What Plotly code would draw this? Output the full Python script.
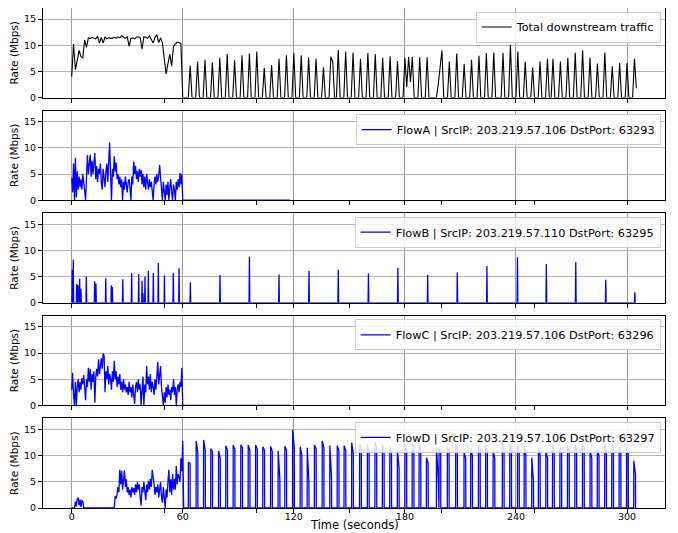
import plotly.graph_objects as go
from plotly.subplots import make_subplots

# ---------------- data ----------------
# Total downstream traffic: 1-s samples for t = 0..60 s
total_early = [4.0, 10.2, 5.3, 7.5, 9.0, 7.8, 7.6, 11.0, 9.6, 11.4,
               11.3, 11.5, 11.4, 11.2, 11.7, 10.4, 11.5, 10.4, 11.6, 11.2,
               11.4, 11.4, 11.3, 11.5, 11.3, 11.6, 11.4, 11.8, 11.5, 11.3,
               11.6, 9.8, 11.3, 11.4, 11.2, 11.5, 11.6, 11.4, 9.3, 11.6,
               11.5, 11.3, 11.8, 11.2, 10.4, 11.5, 12.0, 10.5, 11.4, 10.4,
               7.0, 4.5, 6.5, 8.3, 6.0, 9.8, 10.2, 10.6, 10.5, 10.3,
               0.0]
# Total after 60 s: non-zero 1-s samples (time s, rate Mbps); other seconds are 0
total_late_t = [64, 68, 72, 76, 80, 84, 88, 92, 96, 100, 104, 108, 112, 116, 120,
                124, 128, 132, 136, 140, 141, 144, 148, 152, 156, 160, 164, 168, 172,
                176, 180, 181, 182, 183, 184, 188, 192, 198, 199, 200, 204, 208, 212,
                216, 220, 224, 228, 233, 237, 241, 245, 249, 253, 257, 260, 264, 268,
                272, 276, 280, 284, 288, 292, 296, 300, 304, 305]
total_late_v = [6.1, 6.9, 7.2, 6.7, 7.6, 8.3, 7.1, 8.1, 8.4, 8.8, 5.7, 6.2, 7.4, 8.1, 8.5,
                8.1, 7.7, 7.4, 5.8, 7.8, 6.9, 9.1, 8.8, 8.6, 7.4, 8.5, 8.3, 7.6, 7.9,
                7.0, 7.6, 2.0, 7.8, 3.0, 7.8, 7.7, 7.7, 2.5, 5.5, 9.0, 6.9, 8.4, 6.4,
                7.2, 8.0, 8.5, 8.6, 8.5, 10.1, 8.8, 6.9, 5.8, 6.9, 7.4, 7.4, 6.9, 7.6,
                8.6, 9.0, 7.6, 6.5, 8.6, 6.0, 6.6, 6.6, 7.4, 1.8]
total_end = 305

# FlowA: 0.5-s samples for t = 0..60 s, then 0 until flowA_end
flowA_early = [4.2, 1.5, 7.0, 0.0, 8.1, 0.5, 5.5, 2.0, 4.5, 2.5,
               4.0, 2.0, 5.0, 2.5, 1.8, 0.0, 6.0, 8.6, 5.0, 6.5,
               8.7, 4.5, 7.5, 5.0, 8.0, 9.0, 4.0, 6.5, 3.5, 6.0,
               5.0, 7.0, 3.5, 2.0, 6.0, 4.5, 2.5, 5.5, 7.0, 3.5,
               8.0, 11.0, 5.0, 0.0, 6.0, 4.5, 8.4, 5.5, 7.2, 4.0,
               5.0, 3.0, 4.5, 2.5, 4.0, 0.0, 3.5, 2.0, 4.5, 3.0,
               1.5, 3.5, 4.0, 2.5, 0.0, 4.5, 3.0, 7.4, 5.0, 6.5,
               4.0, 5.5, 3.5, 6.0, 4.5, 5.8, 3.0, 5.0, 2.5, 4.5,
               2.0, 5.0, 3.0, 2.0, 4.0, 2.5, 3.5, 1.5, 0.0, 3.0,
               4.5, 3.0, 5.0, 3.5, 4.5, 6.7, 4.0, 2.0, 0.0, 3.5,
               1.5, 0.0, 3.0, 1.0, 3.5, 0.0, 2.5, 4.0, 1.5, 0.0,
               3.0, 2.0, 0.0, 3.5, 2.0, 4.0, 2.5, 5.2, 3.0, 5.0,
               0.0]
flowA_end = 118

# FlowB: short spikes (time s, peak Mbps), 0 elsewhere until flowB_end
flowB_t = [0.3, 0.86, 2.7, 3.4, 4.3, 5.0, 7.9, 12.4, 13.1, 18.4, 21.4, 21.96, 27.6,
           32.4, 36.2, 38.0, 38.5, 39.6, 41.4, 44.1, 46.8, 50.1, 54.9, 58.0, 64.1,
           80.1, 96.0, 112.0, 128.2, 144.0, 160.3, 176.2, 192.3, 208.3, 224.3,
           240.8, 256.4, 272.3, 288.5, 304.2]
flowB_v = [6.3, 8.2, 3.6, 3.4, 4.6, 2.7, 5.0, 4.1, 3.7, 4.7, 3.3, 3.0, 4.5,
           5.7, 5.5, 4.2, 1.8, 5.0, 6.1, 5.7, 7.6, 5.2, 5.7, 6.6, 3.9,
           5.3, 8.8, 5.4, 6.1, 6.3, 5.6, 6.7, 5.3, 5.8, 7.0,
           8.7, 7.4, 7.8, 4.4, 2.0]
flowB_end = 305

# FlowC: 0.5-s samples for t = 0..60 s, then 0 until flowC_end
flowC_early = [3.0, 6.2, 2.0, 0.0, 4.5, 0.0, 3.5, 5.0, 2.5, 4.5,
               3.0, 5.2, 4.0, 5.8, 3.5, 1.0, 5.0, 3.5, 7.2, 4.5,
               7.0, 3.0, 6.0, 4.5, 6.5, 0.5, 5.5, 7.0, 5.5, 8.8,
               6.0, 7.5, 9.0, 7.0, 9.9, 9.5, 2.5, 6.5, 5.0, 7.5,
               4.0, 6.0, 5.0, 3.0, 6.5, 4.5, 8.5, 5.0, 6.5, 3.5,
               5.5, 4.0, 6.0, 3.0, 4.5, 2.5, 5.0, 3.0, 4.0, 2.5,
               3.5, 2.0, 4.5, 2.5, 3.5, 1.5, 4.0, 2.0, 0.3, 3.5,
               4.5, 2.5, 5.0, 3.0, 4.0, 0.0, 3.5, 5.5, 0.0, 4.0,
               2.5, 7.5, 4.0, 5.5, 3.0, 6.0, 2.5, 4.5, 3.5, 2.0,
               5.0, 3.0, 5.5, 8.3, 4.0, 6.0, 7.5, 3.5, 2.0, 0.0,
               2.5, 0.5, 3.5, 1.5, 4.0, 2.0, 3.0, 1.0, 3.5, 2.5,
               5.0, 2.0, 3.5, 0.0, 3.0, 4.0, 2.5, 4.5, 3.5, 7.2,
               0.0]
flowC_end = 118

# FlowD: 0.5-s samples for t = 0..60.5 s
flowD_early = [0.0, 0.0, 0.0, 0.0, 1.2, 0.3, 1.8, 1.9, 0.5, 1.6,
               0.2, 1.4, 1.3, 0.0, 0.0, 0.0, 0.0, 0.0, 0.0, 0.0,
               0.0, 0.0, 0.0, 0.0, 0.0, 0.0, 0.0, 0.0, 0.0, 0.0,
               0.0, 0.0, 0.0, 0.0, 0.0, 0.0, 0.0, 0.0, 0.0, 0.0,
               0.0, 0.0, 0.0, 0.0, 0.0, 0.0, 0.0, 2.3, 1.8, 2.6,
               4.0, 3.0, 7.3, 4.5, 7.1, 3.5, 6.0, 7.2, 4.0, 5.5,
               3.0, 4.0, 2.5, 3.5, 2.0, 4.0, 3.0, 3.8, 2.5, 4.5,
               3.0, 5.0, 3.5, 4.5, 2.0, 0.5, 4.0, 3.0, 5.0, 3.5,
               1.5, 4.5, 3.0, 5.2, 3.5, 5.5, 4.0, 7.3, 5.0, 4.5,
               2.5, 4.0, 3.0, 4.5, 2.0, 3.5, 5.0, 2.0, 1.0, 4.0,
               1.5, 0.0, 3.5, 2.0, 5.0, 7.3, 3.0, 5.5, 2.5, 6.5,
               3.5, 5.5, 3.5, 8.0, 4.5, 6.5, 6.0, 5.0, 9.5, 7.0,
               12.8, 0.0]
# FlowD after 60 s: bursts (centre time s, rate at start, rate at end), 0 between
flowD_burst_t = [63.5, 67.7, 71.7, 75.6, 79.8, 83.7, 87.7, 91.8, 95.8, 99.8, 103.7,
                 107.9, 112.0, 115.6, 119.8, 123.9, 127.7, 131.6, 135.8, 139.9, 143.9,
                 147.6, 151.7, 156.0, 160.2, 164.3, 168.3, 172.3, 176.4, 180.5, 184.4,
                 188.1, 192.1, 197.5, 198.9, 203.4, 207.9, 212.4, 216.0, 220.2, 224.1,
                 228.1, 233.1, 237.1, 241.3, 244.9, 249.0, 252.6, 256.6, 260.2, 264.2,
                 268.3, 272.3, 276.4, 280.5, 284.4, 288.4, 292.2, 296.2, 300.2, 304.1]
flowD_burst_hi = [8.7, 12.8, 13.0, 11.3, 10.9, 11.9, 12.0, 12.0, 12.0, 12.0, 11.7,
                  11.8, 10.9, 11.8, 14.9, 11.7, 11.5, 12.0, 12.8, 11.9, 11.9,
                  11.9, 12.5, 12.2, 12.2, 12.5, 12.2, 11.7, 11.2, 12.2, 12.4,
                  12.5, 9.6, 11.5, 11.3, 11.7, 12.4, 10.6, 11.2, 12.0, 11.9,
                  10.9, 12.5, 12.1, 11.9, 11.9, 9.6, 11.2, 10.8, 11.9, 11.5,
                  11.9, 12.2, 12.2, 10.9, 11.2, 12.2, 12.4, 11.7, 12.2, 9.0]
flowD_burst_lo = [8.5, 10.5, 11.0, 10.8, 9.5, 11.0, 11.2, 11.5, 11.0, 11.3, 11.0,
                  10.8, 5.4, 11.0, 11.5, 10.0, 4.8, 11.3, 11.5, 6.0, 11.0,
                  11.0, 10.3, 11.6, 10.5, 11.5, 11.0, 10.5, 7.5, 11.0, 11.5,
                  11.0, 8.5, 6.0, 10.5, 10.5, 11.0, 9.5, 10.0, 11.0, 10.5,
                  9.5, 11.5, 11.0, 10.5, 10.0, 5.1, 10.0, 9.5, 11.0, 10.5,
                  11.0, 11.0, 11.5, 9.5, 10.0, 11.0, 11.5, 10.5, 11.0, 6.5]
flowD_end = 305

names = ["Total downstream traffic",
         "FlowA | SrcIP: 203.219.57.106 DstPort: 63293",
         "FlowB | SrcIP: 203.219.57.110 DstPort: 63295",
         "FlowC | SrcIP: 203.219.57.106 DstPort: 63296",
         "FlowD | SrcIP: 203.219.57.106 DstPort: 63297"]
x_ticks = [0, 60, 120, 180, 240, 300]
y_ticks = [0, 5, 10, 15]

# ---------------- build series ----------------
tot = {t: v for t, v in enumerate(total_early)}
for t in range(len(total_early), total_end + 1):
    tot[t] = 0.0
for t, v in zip(total_late_t, total_late_v):
    tot[t] = v
tot_x = sorted(tot)
tot_y = [tot[t] for t in tot_x]


def half_second(vals, end):
    xs = [i * 0.5 for i in range(len(vals))]
    ys = list(vals)
    xs.append(end)
    ys.append(0.0)
    return xs, ys


a_x, a_y = half_second(flowA_early, flowA_end)
c_x, c_y = half_second(flowC_early, flowC_end)

b_x, b_y = [0.0], [0.0]
for t, v in zip(flowB_t, flowB_v):
    b_x += [t - 0.2, t, t + 0.2]
    b_y += [0.0, v, 0.0]
b_x.append(flowB_end)
b_y.append(0.0)

d_x = [i * 0.5 for i in range(len(flowD_early))]
d_y = list(flowD_early)
for t, hi, lo in zip(flowD_burst_t, flowD_burst_hi, flowD_burst_lo):
    d_x += [t - 0.5, t - 0.45, t + 0.45, t + 0.5]
    d_y += [0.0, hi, lo, 0.0]
d_x.append(flowD_end)
d_y.append(0.0)

series = [(tot_x, tot_y, "black"), (a_x, a_y, "#0000ff"), (b_x, b_y, "#0000ff"),
          (c_x, c_y, "#0000ff"), (d_x, d_y, "#0000ff")]

# ---------------- figure ----------------
FONT = "DejaVu Sans"
fig = make_subplots(rows=5, cols=1, shared_xaxes=True, vertical_spacing=0.026)

for i, (xs, ys, col) in enumerate(series):
    leg = "legend" if i == 0 else f"legend{i + 1}"
    fig.add_trace(go.Scatter(x=xs, y=ys, mode="lines", name=names[i],
                             line=dict(color=col, width=1.1 if i == 0 else 1.3),
                             legend=leg, showlegend=True), row=i + 1, col=1)

ph = (1 - 4 * 0.026) / 5
layout_legends = {}
for i in range(5):
    top = 1 - i * (ph + 0.026)
    key = "legend" if i == 0 else f"legend{i + 1}"
    layout_legends[key] = dict(x=0.993, y=top - 0.007, xanchor="right", yanchor="top",
                               bgcolor="rgba(255,255,255,0.85)", bordercolor="#cccccc",
                               borderwidth=1, font=dict(family=FONT, size=11.3, color="black"),
                               itemwidth=30, tracegroupgap=0)

for r in range(1, 6):
    fig.update_yaxes(range=[0, 17.1], tickvals=y_ticks, ticks="outside", ticklen=4,
                     tickcolor="black", showline=True, linecolor="black", linewidth=1,
                     mirror=True, showgrid=True, gridcolor="#b4b4b4", gridwidth=1.2,
                     zeroline=False, title_text="Rate (Mbps)", title_standoff=5,
                     automargin=False,
                     title_font=dict(family=FONT, size=10.5, color="black"),
                     tickfont=dict(family=FONT, size=9.5, color="black"), row=r, col=1)
    fig.update_xaxes(range=[-15.5, 320.5], tickvals=x_ticks, ticks="outside", ticklen=4,
                     tickcolor="black", showline=True, linecolor="black", linewidth=1,
                     mirror=True, showgrid=True, gridcolor="#9a9a9a", gridwidth=1.2,
                     zeroline=False, showticklabels=(r == 5), automargin=False,
                     ticklabelstandoff=-4,
                     minor=dict(tickvals=[50, 100, 150, 200, 250], ticks="outside",
                                ticklen=4, tickcolor="black", showgrid=False),
                     tickfont=dict(family=FONT, size=9.5, color="black"), row=r, col=1)

fig.add_annotation(text="Time (seconds)", x=0.5, y=-0.034, xref="paper", yref="paper",
                   xanchor="center", yanchor="middle", showarrow=False, borderpad=0,
                   font=dict(family=FONT, size=11.5, color="black"))

# the page adds an 8-px body margin, so the figure is made 8 px smaller/shifted
fig.update_layout(width=670, height=525, margin=dict(l=35, r=13, t=0, b=25, autoexpand=False),
                  plot_bgcolor="white", paper_bgcolor="white",
                  font=dict(family=FONT, size=11, color="black"),
                  **layout_legends)

fig.write_html("out.html")
